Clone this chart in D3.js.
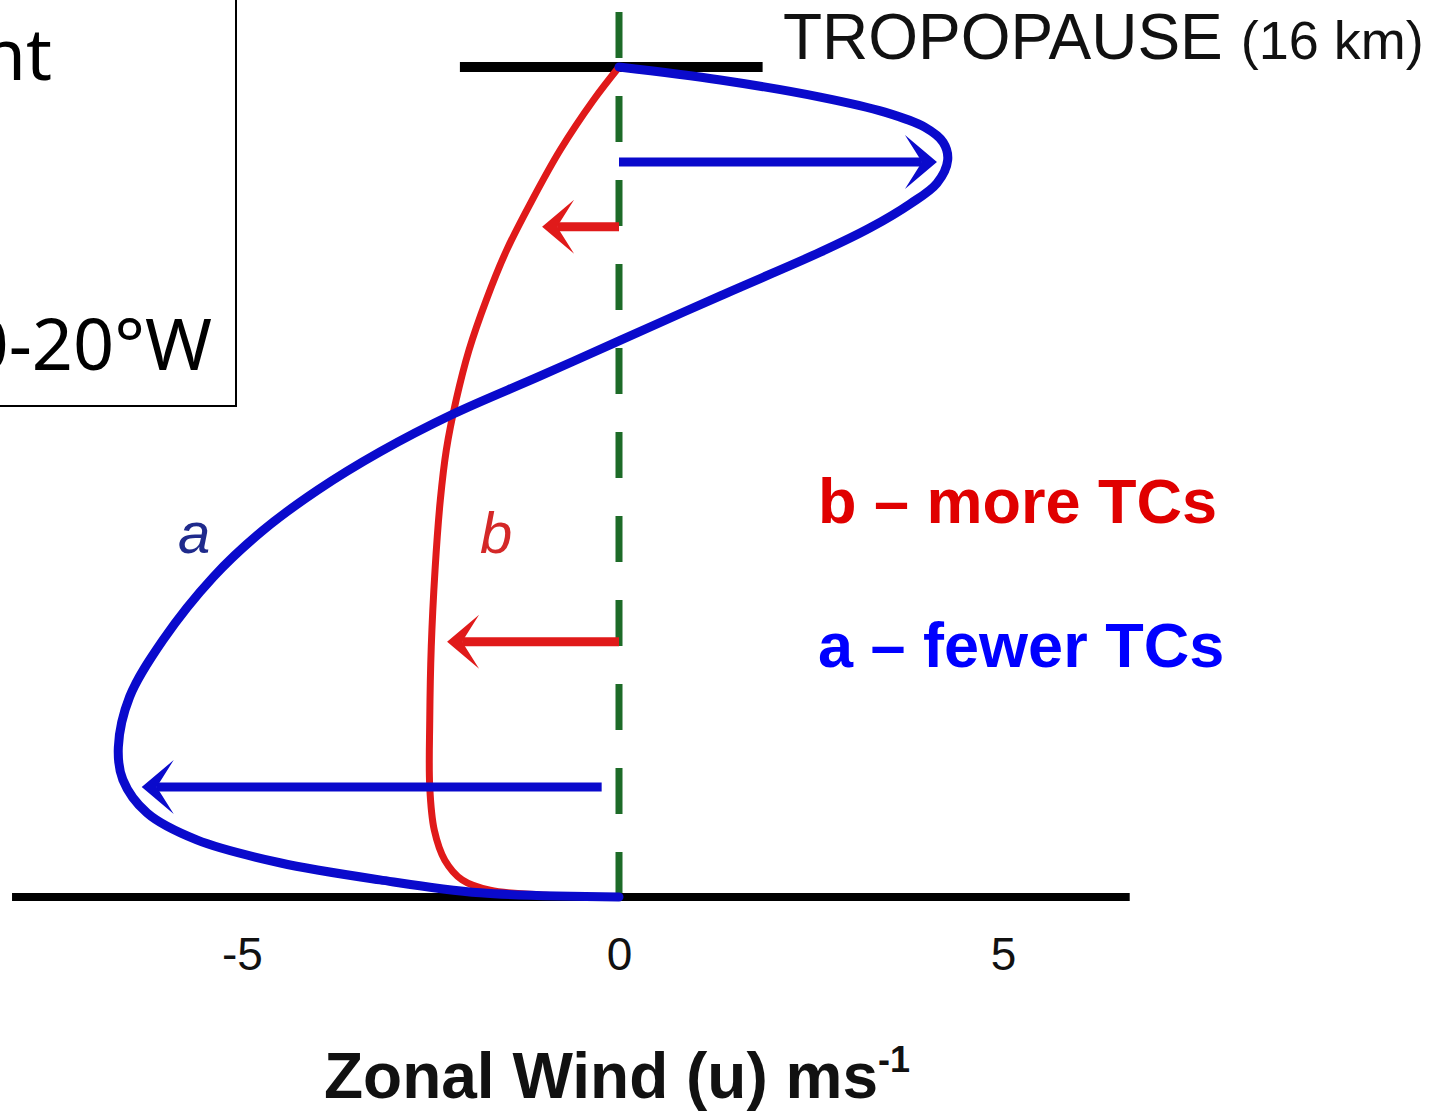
<!DOCTYPE html>
<html>
<head>
<meta charset="utf-8">
<script src="https://cdn.jsdelivr.net/npm/d3@7"></script>
<style>
  html, body { margin: 0; padding: 0; background: #fff; }
  svg { display: block; }
</style>
</head>
<body>
<svg id="chart"></svg>
<script>
// zonal wind (m/s) vs height (km) for the two profiles
const profileA_u  = [0, -1.84, -3.17, -4.50, -5.60, -6.26, -6.58, -6.64, -6.49, -6.05, -5.38, -4.72, -3.99, -3.17, -2.20, -1.05, 0, 1.32, 2.62, 3.27, 3.79, 4.14, 4.28, 4.22, 3.98, 3.46, 2.62, 1.32, 0];
const profileA_km = [0, 0.08, 0.33, 0.66, 1.10, 1.62, 2.26, 2.89, 3.86, 4.95, 6.17, 7.07, 7.85, 8.58, 9.31, 10.04, 10.72, 11.59, 12.43, 12.90, 13.36, 13.76, 14.21, 14.55, 14.84, 15.13, 15.42, 15.75, 16];

const profileB_u  = [0, -0.34, -0.78, -1.15, -1.49, -1.76, -1.99, -2.16, -2.29, -2.37, -2.44, -2.49, -2.51, -2.51, -2.45, -2.31, -2.08, -1.71, -1.05, 0];
const profileB_km = [16, 15.36, 14.40, 13.44, 12.47, 11.51, 10.54, 9.58, 8.62, 7.65, 6.30, 4.82, 3.41, 2.12, 1.29, 0.71, 0.33, 0.13, 0.04, 0];

// anomaly arrows: height, start u, end u
const arrowsA_km = [14.17, 2.12];
const arrowsA_from = [0, -0.23];
const arrowsA_to = [4.14, -6.33];
const arrowsB_km = [12.92, 4.92];
const arrowsB_from = [0, 0];
const arrowsB_to = [-1.02, -2.28];

const windTicks = [-5, 0, 5];
const groundExtent = [-8.05, 6.65];
const tropopauseExtent = [-2.11, 1.87];
const tropopauseKm = 16;
const dashTopKm = 17.06;

const legendLabels = ["b \u2013 more TCs", "a \u2013 fewer TCs"];

const W = 1435, H = 1111;
const blue = "#0a0acc", red = "#e01a1a", green = "#1d6b28";

const svg = d3.select("#chart").attr("width", W).attr("height", H);
svg.append("rect").attr("width", W).attr("height", H).attr("fill", "#fff");

const x = d3.scaleLinear().domain([-5, 0, 5]).range([242, 619, 1003]);
const y = d3.scaleLinear().domain([0, 16]).range([897, 67]);

// clipped text box at the top left
svg.append("rect")
  .attr("x", -10).attr("y", -10).attr("width", 246).attr("height", 416)
  .attr("fill", "none").attr("stroke", "#000").attr("stroke-width", 2);
svg.append("text")
  .attr("x", 52).attr("y", 80).attr("text-anchor", "end")
  .attr("font-family", "'Noto Sans', 'Open Sans', sans-serif").attr("font-size", 72)
  .text("nt");
svg.append("text")
  .attr("x", 212).attr("y", 370).attr("text-anchor", "end")
  .attr("font-family", "'Noto Sans', 'Open Sans', sans-serif").attr("font-size", 72)
  .text("0-20\u00b0W");

// zero line
svg.append("line")
  .attr("x1", x(0)).attr("x2", x(0))
  .attr("y1", y(dashTopKm)).attr("y2", y(0))
  .attr("stroke", green).attr("stroke-width", 7)
  .attr("stroke-dasharray", "46,38");

// ground and tropopause
svg.append("line")
  .attr("x1", x(groundExtent[0])).attr("x2", x(groundExtent[1]))
  .attr("y1", y(0)).attr("y2", y(0))
  .attr("stroke", "#000").attr("stroke-width", 8);
svg.append("line")
  .attr("x1", x(tropopauseExtent[0])).attr("x2", x(tropopauseExtent[1]))
  .attr("y1", y(tropopauseKm)).attr("y2", y(tropopauseKm))
  .attr("stroke", "#000").attr("stroke-width", 10);

// axis ticks
const axis = svg.append("g")
  .attr("transform", `translate(0,${y(0)})`)
  .call(d3.axisBottom(x).tickValues(windTicks).tickSize(0).tickPadding(40).tickFormat(d3.format("d")));
axis.select(".domain").remove();
axis.selectAll("text")
  .attr("font-family", "'Liberation Sans', Arial, sans-serif")
  .attr("font-size", 46).attr("fill", "#111")
  .text(d => d < 0 ? "-" + Math.abs(d) : d);

// profiles
const line = d3.line()
  .x(d => x(d[0])).y(d => y(d[1]))
  .curve(d3.curveCatmullRom.alpha(0.5));

svg.append("path")
  .datum(d3.zip(profileB_u, profileB_km))
  .attr("d", line)
  .attr("fill", "none").attr("stroke", red).attr("stroke-width", 7)
  .attr("stroke-linejoin", "round").attr("stroke-linecap", "round");

svg.append("path")
  .datum(d3.zip(profileA_u, profileA_km))
  .attr("d", line)
  .attr("fill", "none").attr("stroke", blue).attr("stroke-width", 9)
  .attr("stroke-linejoin", "round").attr("stroke-linecap", "round");

// arrows
function drawArrow(km, from, to, color, width) {
  const yy = y(km), x0 = x(from), x1 = x(to);
  const dir = x1 > x0 ? 1 : -1;
  const len = 32, half = 27, notch = 15;
  svg.append("line")
    .attr("x1", x0).attr("x2", x1 - dir * notch)
    .attr("y1", yy).attr("y2", yy)
    .attr("stroke", color).attr("stroke-width", width);
  svg.append("path")
    .attr("d", `M${x1},${yy} L${x1 - dir * len},${yy - half} L${x1 - dir * notch},${yy} L${x1 - dir * len},${yy + half} Z`)
    .attr("fill", color);
}
arrowsB_km.forEach((k, i) => drawArrow(k, arrowsB_from[i], arrowsB_to[i], red, 9));
arrowsA_km.forEach((k, i) => drawArrow(k, arrowsA_from[i], arrowsA_to[i], blue, 9));

// curve labels
svg.append("text")
  .attr("x", 178).attr("y", 553)
  .attr("font-family", "'Liberation Sans', Arial, sans-serif")
  .attr("font-style", "italic").attr("font-size", 58).attr("fill", "#1f2a8c")
  .text("a");
svg.append("text")
  .attr("x", 480).attr("y", 553)
  .attr("font-family", "'Liberation Sans', Arial, sans-serif")
  .attr("font-style", "italic").attr("font-size", 58).attr("fill", "#d42828")
  .text("b");

// tropopause label
const trop = svg.append("text")
  .attr("x", 783).attr("y", 59)
  .attr("font-family", "'Liberation Sans', Arial, sans-serif")
  .attr("fill", "#111");
trop.append("tspan").attr("font-size", 64).text("TROPOPAUSE");
trop.append("tspan").attr("font-size", 54).attr("dx", 18).text("(16 km)");

// legend
svg.selectAll(".legend")
  .data(legendLabels)
  .enter().append("text")
  .attr("class", "legend")
  .attr("x", 818).attr("y", (d, i) => 523 + i * 144)
  .attr("font-family", "'Liberation Sans', Arial, sans-serif")
  .attr("font-weight", "bold").attr("font-size", 63)
  .attr("fill", (d, i) => i === 0 ? "#e00000" : "#0000ff")
  .text(d => d);

// x-axis title
const title = svg.append("text")
  .attr("x", 617).attr("y", 1098).attr("text-anchor", "middle")
  .attr("font-family", "'Liberation Sans', Arial, sans-serif")
  .attr("font-weight", "bold").attr("font-size", 64).attr("fill", "#111");
title.append("tspan").text("Zonal Wind (u) ms");
title.append("tspan").attr("font-size", 36).attr("dy", -26).text("-1");
</script>
</body>
</html>
